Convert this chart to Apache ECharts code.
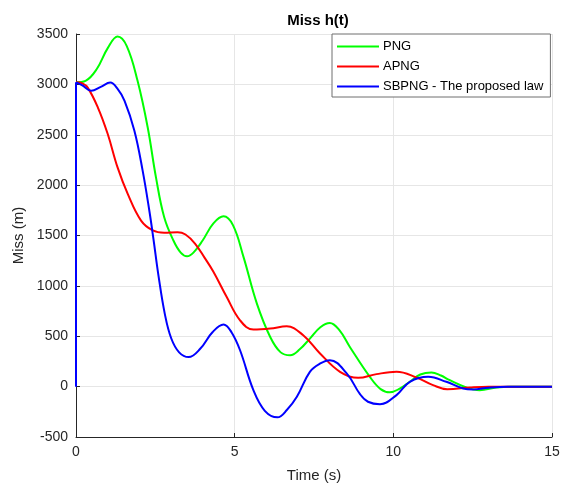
<!DOCTYPE html>
<html>
<head>
<meta charset="utf-8">
<script src="https://cdn.jsdelivr.net/npm/echarts@6/dist/echarts.min.js"></script>
<style>
  html, body { margin: 0; padding: 0; background: #fff; }
  #main { width: 564px; height: 486px; }
</style>
</head>
<body>
<div id="main"></div>
<script>
// Miss h(t)

var dom = document.getElementById('main');
var myChart = echarts.init(dom);

var seriesNames = ['PNG', 'APNG', 'SBPNG - The proposed law'];
var seriesColors = ['#00ff00', '#ff0000', '#0000ff'];

// [time, miss]
var pngData = [
    [0, 3020], [0.3, 3035], [0.65, 3150], [1.0, 3360], [1.31, 3475], [1.6, 3380],
    [1.94, 3035], [2.26, 2572], [2.52, 2077], [2.78, 1681], [3.07, 1450],
    [3.3, 1330], [3.5, 1293], [3.7, 1330], [3.99, 1450], [4.33, 1620],
    [4.65, 1690], [4.95, 1600], [5.28, 1285], [5.7, 824], [6.12, 493],
    [6.45, 340], [6.75, 312], [7.05, 370], [7.37, 477], [7.7, 590], [8.0, 632],
    [8.3, 560], [8.63, 394], [9.26, 97], [9.6, -25], [9.89, -57], [10.2, -20],
    [10.52, 48], [10.85, 120], [11.2, 141], [11.5, 110], [11.78, 64],
    [12.3, -8], [12.72, -35], [13.25, -8], [13.7, 0], [15, 0]
];
var apngData = [
    [0, 3020], [0.2, 3010], [0.37, 2968], [0.69, 2770], [1.0, 2507],
    [1.31, 2176], [1.63, 1913], [2.05, 1648], [2.42, 1550], [2.78, 1527],
    [3.2, 1533], [3.45, 1510], [3.75, 1420], [4.05, 1280], [4.33, 1140],
    [4.75, 889], [5.17, 658], [5.59, 566], [6.12, 576], [6.64, 599],
    [7.16, 510], [7.69, 329], [8.32, 147], [8.89, 87], [9.47, 124],
    [10.1, 147], [10.73, 91], [11.25, 15], [11.7, -25], [12.41, -8],
    [13.0, 0], [15, 0]
];
var sbpngData = [
    [0, 3020], [0.2, 2990], [0.48, 2936], [0.78, 2975], [1.08, 3018],
    [1.3, 2960], [1.53, 2837], [1.84, 2540], [2.1, 2144], [2.31, 1748],
    [2.44, 1467], [2.6, 1100], [2.8, 720], [3.0, 480], [3.25, 340],
    [3.55, 293], [3.92, 378], [4.3, 540], [4.65, 616], [4.9, 540],
    [5.17, 361], [5.59, -35], [5.95, -240], [6.35, -305], [6.65, -230],
    [6.96, -101], [7.37, 147], [7.7, 230], [8.0, 262], [8.53, 131],
    [8.95, -75], [9.2, -150], [9.58, -175], [10.1, -84], [10.52, 48],
    [11.1, 97], [11.67, 48], [12.2, -18], [12.51, -28], [13.0, -10],
    [13.6, 0], [15, 0]
];
// the jump at t = 0
var jumpData = [[0, 0], [0, 3020]];

var axisColor = '#262626';
var font = 'Liberation Sans, Arial, sans-serif';

function lineSeries(name, data, color) {
    return {
        name: name,
        type: 'line',
        data: data,
        smooth: 0.4,
        symbol: 'none',
        lineStyle: { color: color, width: 2 },
        itemStyle: { color: color }
    };
}

var option = {
    animation: false,
    backgroundColor: '#fff',
    title: {
        text: 'Miss h(t)',
        left: 313,
        textAlign: 'center',
        top: 8,
        textStyle: { fontFamily: font, fontSize: 15, fontWeight: 'bold', color: '#000' }
    },
    grid: { left: 76, right: 12, top: 34, bottom: 49, outerBoundsMode: 'none' },
    legend: {
        data: seriesNames,
        orient: 'vertical',
        left: 332,
        top: 34,
        padding: [5, 7, 3, 5],
        itemGap: 5,
        icon: 'rect',
        itemWidth: 42,
        itemHeight: 2,
        backgroundColor: '#fff',
        borderColor: '#6e6e6e',
        borderWidth: 1,
        textStyle: { fontFamily: font, fontSize: 13, color: '#000', lineHeight: 15, padding: [0, 0, 0, -1] }
    },
    xAxis: {
        type: 'value',
        min: 0,
        max: 15,
        interval: 5,
        name: 'Time (s)',
        nameLocation: 'middle',
        nameGap: 31,
        nameTextStyle: { fontFamily: font, fontSize: 15, color: axisColor },
        axisLine: { show: true, onZero: false, lineStyle: { color: axisColor, width: 1 } },
        axisTick: { show: true, inside: true, length: 4, lineStyle: { color: axisColor } },
        axisLabel: { fontFamily: font, fontSize: 14, color: axisColor, margin: 8 },
        splitLine: { show: true, lineStyle: { color: '#e6e6e6', width: 1 } }
    },
    yAxis: {
        type: 'value',
        min: -500,
        max: 3500,
        interval: 500,
        name: 'Miss (m)',
        nameLocation: 'middle',
        nameGap: 41,
        nameTextStyle: { fontFamily: font, fontSize: 15, color: axisColor },
        axisLine: { show: true, onZero: false, lineStyle: { color: axisColor, width: 1 } },
        axisTick: { show: true, inside: true, length: 4, lineStyle: { color: axisColor } },
        axisLabel: { fontFamily: font, fontSize: 14, color: axisColor, margin: 8,
            formatter: function (v) { return String(v); } },
        splitLine: { show: true, lineStyle: { color: '#e6e6e6', width: 1 } }
    },
    series: [
        lineSeries(seriesNames[0], pngData, seriesColors[0]),
        lineSeries(seriesNames[1], apngData, seriesColors[1]),
        lineSeries(seriesNames[2], sbpngData, seriesColors[2]),
        {
            name: 'jump',
            type: 'line',
            data: jumpData,
            symbol: 'none',
            lineStyle: { color: seriesColors[2], width: 2 }
        }
    ]
};

if (option && typeof option === 'object') {
    myChart.setOption(option);
}
</script>
</body>
</html>
